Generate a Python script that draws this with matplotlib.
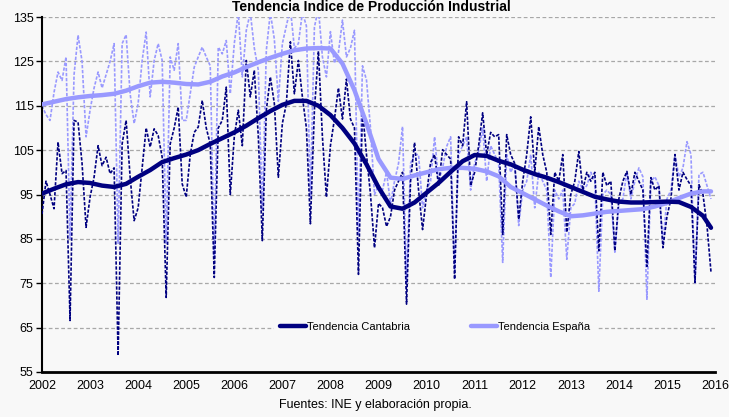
import matplotlib
matplotlib.use("Agg")
import matplotlib.pyplot as plt

plt.rcParams['font.family'] = ['Liberation Sans', 'DejaVu Sans']

# Índice de Producción Industrial mensual (ene-2002 .. dic-2015)
cantabria = [
    90.6, 98.0, 95.0, 91.8, 106.8, 99.7, 100.4, 66.6, 111.7, 111.3, 102.0, 87.6,    # 2002
    94.4, 98.9, 106.0, 101.5, 103.4, 99.7, 101.0, 58.7, 106.4, 111.7, 98.9, 89.1,   # 2003
    92.0, 101.0, 110.0, 105.7, 109.8, 108.3, 103.4, 71.8, 106.4, 110.0, 114.7, 97.4,  # 2004
    94.4, 104.0, 109.0, 110.2, 116.2, 110.0, 106.4, 76.3, 110.0, 111.7, 119.2, 95.0,  # 2005
    108.0, 114.0, 106.0, 125.2, 117.0, 123.0, 108.0, 84.6, 114.0, 121.5, 115.5, 98.9,  # 2006
    111.0, 115.5, 129.4, 117.7, 125.2, 117.0, 110.0, 88.4, 114.0, 127.3, 108.0, 94.4,  # 2007
    106.0, 112.0, 119.0, 112.0, 121.0, 112.0, 110.0, 77.0, 114.0, 104.0, 95.0, 83.0,  # 2008
    93.0, 92.0, 87.8, 90.0, 96.0, 98.0, 100.0, 70.3, 98.0, 106.7, 96.0, 87.1,        # 2009
    95.0, 102.2, 104.0, 97.0, 105.1, 104.0, 103.0, 75.9, 108.0, 106.0, 115.9, 97.0,  # 2010
    100.0, 106.0, 113.4, 104.0, 109.0, 108.0, 108.5, 86.0, 108.5, 104.0, 102.0, 89.4,  # 2011
    98.0, 104.0, 112.5, 100.0, 110.3, 104.0, 100.0, 86.0, 100.0, 98.0, 104.0, 86.5,  # 2012
    95.0, 98.0, 104.7, 96.0, 100.0, 98.0, 100.0, 82.3, 100.0, 97.0, 98.0, 82.3,      # 2013
    94.0, 98.0, 100.2, 95.0, 100.0, 98.0, 96.0, 78.8, 98.8, 96.0, 97.0, 83.0,        # 2014
    90.0, 94.0, 104.0, 96.0, 100.0, 98.4, 97.0, 75.2, 97.2, 95.0, 88.0, 77.5,        # 2015
]

espana = [
    115.0, 113.0, 111.7, 118.0, 122.6, 120.7, 126.0, 85.0, 122.0, 130.9, 125.0, 108.0,  # 2002
    114.0, 119.0, 122.6, 119.0, 122.0, 125.0, 129.0, 84.0, 129.0, 131.0, 117.7, 111.0,  # 2003
    115.5, 125.2, 131.6, 117.0, 125.2, 129.0, 125.2, 84.0, 126.0, 123.0, 129.0, 111.7,  # 2004
    111.7, 117.7, 123.7, 126.0, 128.2, 126.0, 124.0, 81.0, 128.2, 126.7, 129.7, 117.7,  # 2005
    129.0, 136.0, 121.5, 132.0, 136.0, 128.0, 123.0, 91.4, 127.5, 136.0, 130.0, 116.0,  # 2006
    129.0, 133.0, 137.0, 128.0, 129.0, 136.0, 133.0, 94.4, 132.7, 137.0, 126.0, 121.5,  # 2007
    131.7, 124.6, 127.0, 134.3, 126.0, 128.0, 132.0, 86.0, 124.0, 120.8, 110.0, 95.0,   # 2008
    97.0, 96.0, 100.0, 93.0, 98.0, 102.0, 110.3, 75.0, 102.0, 104.0, 104.0, 92.0,       # 2009
    96.0, 98.0, 108.0, 98.0, 101.0, 105.8, 108.0, 78.0, 104.0, 106.0, 108.0, 96.0,      # 2010
    102.0, 104.7, 110.0, 98.0, 106.0, 104.0, 102.0, 79.7, 104.0, 100.0, 102.0, 88.0,    # 2011
    96.0, 98.0, 104.0, 92.0, 100.0, 98.0, 96.0, 76.3, 96.0, 94.0, 96.0, 80.4,          # 2012
    92.0, 93.0, 98.0, 96.0, 97.0, 100.0, 98.0, 73.2, 95.0, 96.0, 95.0, 82.0,           # 2013
    93.0, 94.0, 100.0, 94.0, 98.0, 101.0, 99.0, 71.4, 98.0, 99.0, 97.0, 84.0,          # 2014
    94.0, 96.0, 104.0, 99.0, 101.0, 106.9, 104.0, 74.8, 99.5, 100.0, 97.0, 94.0,       # 2015
]

# tendencias, leídas por trimestre (mes 0 = ene-2002)
trend_months = list(range(0, 166, 3)) + [167]
trend_cantabria = [
    95.2, 96.3, 97.3, 97.8, 97.6, 97.0, 96.7, 97.4, 99.0, 100.5, 102.3, 103.2,
    104.0, 105.0, 106.4, 107.7, 109.0, 110.5, 112.2, 113.8, 115.2, 116.1, 116.1, 115.0,
    112.9, 110.0, 106.5, 101.8, 96.6, 92.3, 91.8, 93.2, 95.4, 97.6, 100.1, 102.5,
    103.9, 103.7, 102.6, 101.8, 100.6, 99.6, 98.8, 97.8, 96.7, 95.6, 94.5, 93.9,
    93.4, 93.2, 93.2, 93.3, 93.4, 93.3, 92.2, 90.2, 87.5,
]
trend_espana = [
    115.3, 115.9, 116.5, 116.9, 117.2, 117.4, 117.7, 118.4, 119.4, 120.2, 120.4, 120.2,
    119.9, 119.8, 120.4, 121.6, 122.5, 123.7, 124.8, 125.8, 126.7, 127.5, 127.9, 128.0,
    127.9, 124.5, 118.5, 111.0, 103.0, 98.8, 98.5, 99.3, 100.0, 100.7, 101.0, 101.0,
    100.8, 100.2, 99.1, 96.7, 95.3, 93.9, 92.5, 91.2, 90.1, 90.3, 90.7, 91.1,
    91.3, 91.5, 91.7, 92.3, 93.1, 94.2, 95.2, 95.7, 95.7,
]

years = list(range(2002, 2017))
yticks = list(range(55, 136, 10))

dark = "#000080"
light = "#9999ff"
bg = "#f8f8f8"

fig = plt.figure(figsize=(7.29, 4.17), dpi=100, facecolor=bg)
ax = fig.add_axes([42 / 729, 45 / 417, 673 / 729, 355 / 417], facecolor=bg)

months = list(range(len(cantabria)))
ax.plot(months, espana, color=light, lw=1.2, ls=(0, (2, 1)), zorder=2)
ax.plot(months, cantabria, color=dark, lw=1.2, ls=(0, (2, 1)), zorder=3)
ax.plot(trend_months, trend_espana, color=light, lw=3.2, zorder=4,
        solid_capstyle="round", label="Tendencia España")
ax.plot(trend_months, trend_cantabria, color=dark, lw=3.2, zorder=5,
        solid_capstyle="round", label="Tendencia Cantabria")

ax.set_xlim(0, 168)
ax.set_ylim(55, 135)
ax.set_yticks(yticks)
ax.set_xticks([12 * i for i in range(len(years))])
ax.set_xticklabels([str(y) for y in years])
ax.tick_params(axis="x", length=0, pad=6, labelsize=9)
ax.tick_params(axis="y", length=4, width=1, pad=2, labelsize=9)

for v in yticks[1:]:
    ax.axhline(v, color="#a8a8a8", lw=0.9, ls=(0, (3, 2)), zorder=1)

for s in ("top", "right"):
    ax.spines[s].set_visible(False)
ax.spines["left"].set_linewidth(1.5)
ax.spines["bottom"].set_linewidth(2)

handles, labels = ax.get_legend_handles_labels()
leg = ax.legend(handles[::-1], labels[::-1], loc="center", bbox_to_anchor=(0.584, 0.127),
                ncol=2, fontsize=8, frameon=True, handlelength=2.3, handletextpad=0.1,
                columnspacing=5.5, borderpad=0.6)
leg.get_frame().set_facecolor(bg)
leg.get_frame().set_edgecolor(bg)
leg.get_frame().set_alpha(1)
leg.set_zorder(6)

fig.text(0.51, 0.999, "Tendencia Índice de Producción Industrial", ha="center", va="top",
         fontsize=10, fontweight="bold")
fig.text(0.515, 0.015, "Fuentes: INE y elaboración propia.", ha="center", va="bottom",
         fontsize=9)

fig.savefig("out.png", dpi=100, facecolor=bg)
